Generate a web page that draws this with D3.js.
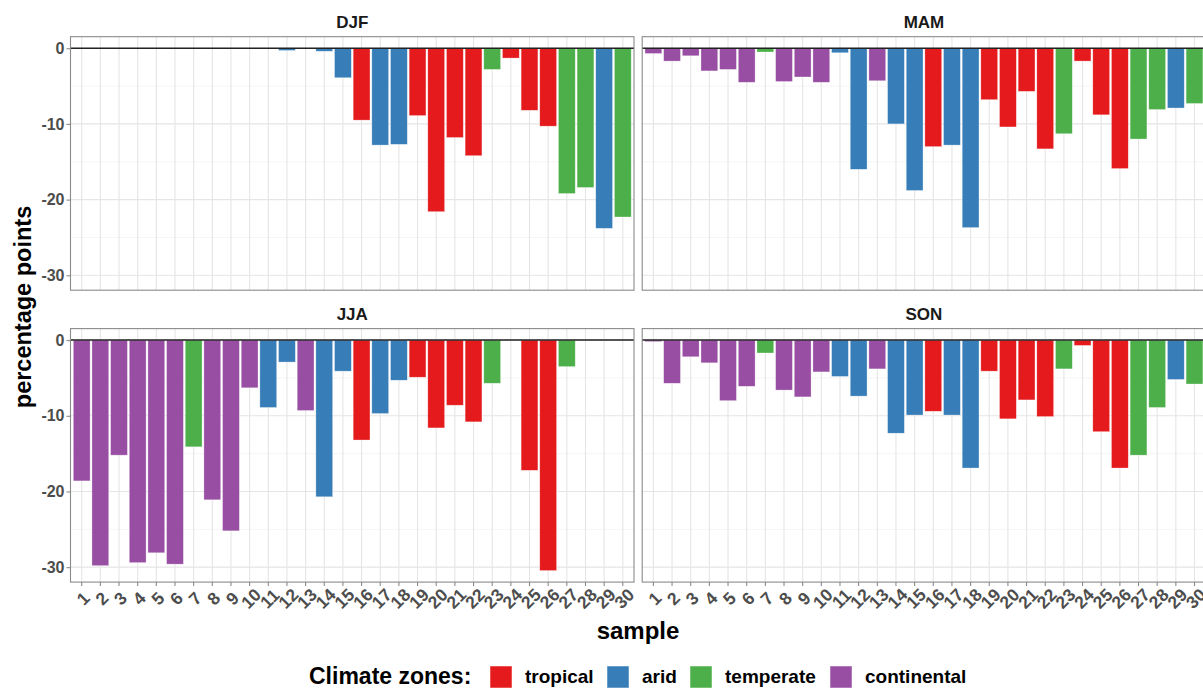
<!DOCTYPE html>
<html><head><meta charset="utf-8">
<script src="https://cdn.jsdelivr.net/npm/d3@7"></script>
<style>
body{margin:0;background:#fff;}
svg text{font-family:"Liberation Sans",Arial,sans-serif;font-weight:bold;}
</style></head>
<body><svg id="chart" width="1203" height="688"></svg>
<script>
const samples = ["1","2","3","4","5","6","7","8","9","10","11","12","13","14","15","16","17","18","19","20","21","22","23","24","25","26","27","28","29","30"];
const zones = ["continental","continental","continental","continental","continental","continental","temperate","continental","continental","continental",
  "arid","arid","continental","arid","arid","tropical","arid","arid","tropical","tropical",
  "tropical","tropical","temperate","tropical","tropical","tropical","temperate","temperate","arid","temperate"];
const seasons = ["DJF","MAM","JJA","SON"];
const djf = [0,0,0,0,0,0,0,0,0,0, 0,-0.3,0,-0.4,-3.9,-9.5,-12.8,-12.7,-8.9,-21.6, -11.8,-14.2,-2.8,-1.3,-8.2,-10.3,-19.2,-18.4,-23.8,-22.3];
const mam = [-0.7,-1.7,-1.0,-3.0,-2.8,-4.5,-0.5,-4.4,-3.8,-4.5, -0.6,-16.0,-4.3,-10.0,-18.8,-13.0,-12.8,-23.7,-6.8,-10.4, -5.7,-13.3,-11.3,-1.7,-8.8,-15.9,-12.0,-8.1,-7.9,-7.3];
const jja = [-18.6,-29.8,-15.2,-29.4,-28.1,-29.6,-14.1,-21.1,-25.2,-6.3, -8.9,-2.9,-9.3,-20.7,-4.1,-13.2,-9.7,-5.3,-4.9,-11.6, -8.6,-10.8,-5.7,0,-17.2,-30.45,-3.5,0,0,0];
const son = [-0.2,-5.7,-2.2,-3.0,-8.0,-6.1,-1.7,-6.6,-7.5,-4.2, -4.8,-7.4,-3.8,-12.3,-9.9,-9.4,-9.9,-16.9,-4.1,-10.4, -7.9,-10.1,-3.8,-0.7,-12.1,-16.9,-15.2,-8.9,-5.2,-5.8];
const zoneNames = ["tropical","arid","temperate","continental"];
const zoneColors = ["#E41A1C","#377EB8","#4DAF4A","#984EA3"];
const yTicks = [0,-10,-20,-30];
const yMinor = [-5,-15,-25];

const seriesBySeason = {DJF: djf, MAM: mam, JJA: jja, SON: son};
const svg = d3.select("#chart");
const color = d3.scaleOrdinal().domain(zoneNames).range(zoneColors);

const allVals = [].concat(djf, mam, jja, son);
const lo = d3.min(allVals), hi = Math.max(0, d3.max(allVals));
const R = hi - lo;

const panelW = 563.5, panelH = 253.5;
const panels = [
  {s:"DJF", x:70.5, y:36.7, yAxis:true, xAxis:false},
  {s:"MAM", x:642.2, y:36.7, yAxis:false, xAxis:false},
  {s:"JJA", x:70.5, y:328.6, yAxis:true, xAxis:true},
  {s:"SON", x:642.2, y:328.6, yAxis:false, xAxis:true}
];

const x = d3.scaleBand().domain(samples).range([0, panelW]).paddingInner(0.1).paddingOuter(0.15);
const y = d3.scaleLinear().domain([lo - 0.05*R, hi + 0.05*R]).range([panelH, 0]);

panels.forEach(p => {
  const g = svg.append("g").attr("transform", `translate(${p.x},${p.y})`);
  g.selectAll(".minor").data(yMinor).join("line")
    .attr("x1",0).attr("x2",panelW).attr("y1",d=>y(d)).attr("y2",d=>y(d))
    .attr("stroke","#f1f1f1").attr("stroke-width",0.8);
  g.selectAll(".majory").data(yTicks).join("line")
    .attr("x1",0).attr("x2",panelW).attr("y1",d=>y(d)).attr("y2",d=>y(d))
    .attr("stroke","#e5e5e5").attr("stroke-width",1.1);
  g.selectAll(".majorx").data(samples).join("line")
    .attr("x1",d=>x(d)+x.bandwidth()/2).attr("x2",d=>x(d)+x.bandwidth()/2)
    .attr("y1",0).attr("y2",panelH)
    .attr("stroke","#e5e5e5").attr("stroke-width",1.1);
  const vals = seriesBySeason[p.s];
  g.selectAll(".bar").data(samples).join("rect")
    .attr("x", d=>x(d))
    .attr("width", x.bandwidth())
    .attr("y", (d,i)=>y(Math.max(0, vals[i])))
    .attr("height", (d,i)=>Math.abs(y(vals[i]) - y(0)))
    .attr("fill", (d,i)=>color(zones[i]))
    .attr("stroke", "#ffffff").attr("stroke-opacity",0.5).attr("stroke-width",0.6);
  g.append("line").attr("x1",0).attr("x2",panelW).attr("y1",y(0)).attr("y2",y(0))
    .attr("stroke","#222").attr("stroke-width",1.5);
  g.append("rect").attr("x",0).attr("y",0).attr("width",panelW).attr("height",panelH)
    .attr("fill","none").attr("stroke","#8a8a8a").attr("stroke-width",1.1);
  g.append("text").attr("x",panelW/2).attr("y",-14.5).attr("text-anchor","middle")
    .attr("dominant-baseline","central").attr("font-size",17).attr("fill","#1a1a1a").text(p.s);
  if (p.yAxis) {
    const ya = g.append("g").call(d3.axisLeft(y).tickValues(yTicks).tickSize(4).tickPadding(2).tickFormat(d=>String(d)));
    ya.select(".domain").remove();
    ya.selectAll("line").attr("stroke","#8a8a8a").attr("stroke-width",1.1);
    ya.selectAll("text").attr("font-size",16).attr("fill","#4d4d4d").attr("font-family","Liberation Sans, Arial, sans-serif").attr("font-weight","bold");
  }
  if (p.xAxis) {
    const xa = g.append("g").attr("transform",`translate(0,${panelH})`)
      .call(d3.axisBottom(x).tickSize(4).tickFormat(d=>d));
    xa.select(".domain").remove();
    xa.selectAll("line").attr("stroke","#8a8a8a").attr("stroke-width",1.1);
    xa.selectAll("text")
      .attr("y",0).attr("dy",0)
      .attr("transform","translate(1.5,16.5) rotate(-45)")
      .attr("text-anchor","middle").attr("dominant-baseline","central")
      .attr("font-size",17.5).attr("fill","#4d4d4d")
      .attr("font-family","Liberation Sans, Arial, sans-serif").attr("font-weight","bold");
  }
});

svg.append("text").attr("x",638).attr("y",630).attr("text-anchor","middle")
  .attr("dominant-baseline","central").attr("font-size",24).attr("fill","#000").text("sample");
svg.append("text").attr("transform","translate(23,307) rotate(-90)").attr("text-anchor","middle")
  .attr("dominant-baseline","central").attr("font-size",23.5).attr("fill","#000").text("percentage points");

const lg = svg.append("g");
lg.append("text").attr("x",309).attr("y",676).attr("dominant-baseline","central")
  .attr("font-size",23).attr("fill","#000").text("Climate zones:");
const legX = [490, 607, 690, 830];
zoneNames.forEach((z,i)=>{
  lg.append("rect").attr("x",legX[i]).attr("y",666).attr("width",22).attr("height",22)
    .attr("fill",color(z)).attr("stroke","#fff").attr("stroke-opacity",0.5);
  lg.append("text").attr("x",legX[i]+35).attr("y",676.5).attr("dominant-baseline","central")
    .attr("font-size",19).attr("fill","#000").text(z);
});
</script></body></html>
